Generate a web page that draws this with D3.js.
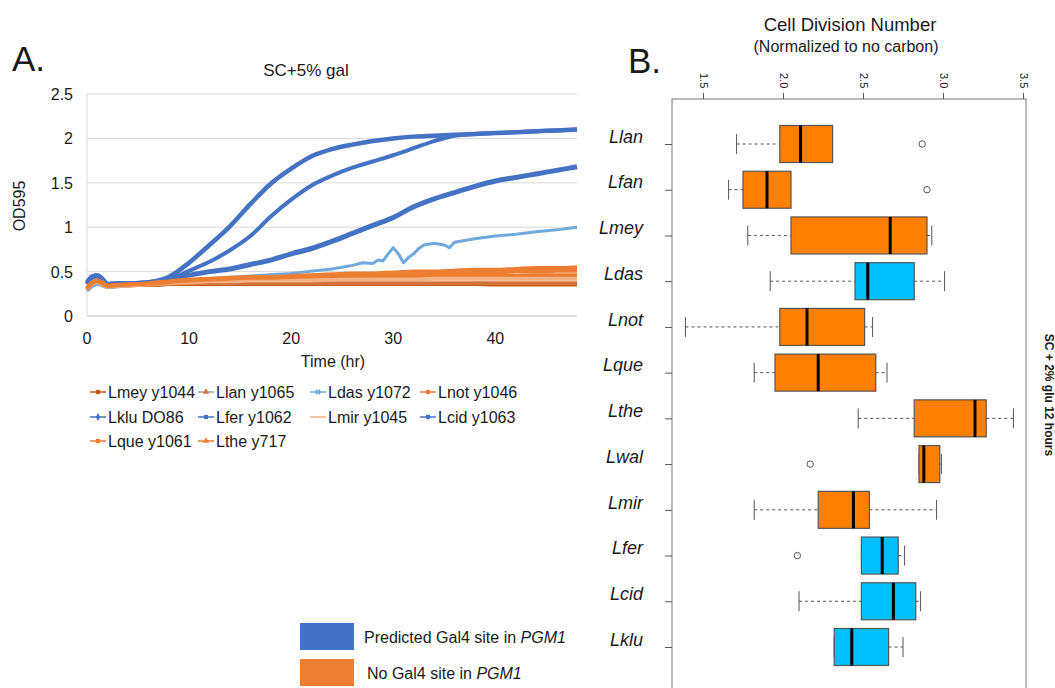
<!DOCTYPE html>
<html>
<head>
<meta charset="utf-8">
<script src="https://cdn.jsdelivr.net/npm/d3@7"></script>
<style>
  body { margin: 0; background: #fff; }
  svg text { font-family: Arial, "Liberation Sans", sans-serif; fill: #1a1a1a; }
</style>
</head>
<body>
<svg id="chart" width="1055" height="688"></svg>
<script>
// ---- panel A: OD595 growth curves in SC+5% gal ----
const hours = [0, 0.5, 1, 1.5, 2, 3, 5, 7, 8, 10, 12, 14, 16, 18, 20, 22, 24, 26, 28, 30, 32, 34, 36, 38, 40, 42, 44, 46, 48];
const odLmey = [0.29, 0.35, 0.37, 0.35, 0.33, 0.34, 0.35, 0.35, 0.36, 0.36, 0.36, 0.36, 0.36, 0.36, 0.36, 0.36, 0.36, 0.36, 0.36, 0.36, 0.36, 0.36, 0.36, 0.36, 0.355, 0.355, 0.355, 0.355, 0.355];
const odLlan = [0.30, 0.36, 0.38, 0.36, 0.33, 0.34, 0.35, 0.36, 0.36, 0.37, 0.37, 0.37, 0.37, 0.37, 0.37, 0.37, 0.37, 0.37, 0.37, 0.37, 0.37, 0.37, 0.37, 0.37, 0.37, 0.37, 0.37, 0.37, 0.37];
const odLnot = [0.30, 0.37, 0.39, 0.37, 0.34, 0.35, 0.36, 0.37, 0.38, 0.40, 0.40, 0.41, 0.41, 0.42, 0.42, 0.42, 0.43, 0.43, 0.44, 0.44, 0.44, 0.45, 0.45, 0.45, 0.45, 0.45, 0.46, 0.46, 0.46];
const odLklu = [0.36, 0.44, 0.45, 0.41, 0.35, 0.36, 0.37, 0.39, 0.41, 0.46, 0.50, 0.53, 0.58, 0.63, 0.70, 0.76, 0.84, 0.93, 1.02, 1.11, 1.23, 1.32, 1.39, 1.46, 1.52, 1.56, 1.60, 1.64, 1.68];
const odLfer = [0.36, 0.44, 0.45, 0.42, 0.35, 0.36, 0.37, 0.39, 0.41, 0.51, 0.61, 0.74, 0.90, 1.12, 1.31, 1.47, 1.58, 1.67, 1.74, 1.81, 1.89, 1.97, 2.03, 2.05, 2.06, 2.07, 2.08, 2.09, 2.10];
const odLmir = [0.30, 0.36, 0.38, 0.36, 0.33, 0.34, 0.35, 0.36, 0.37, 0.38, 0.39, 0.39, 0.40, 0.40, 0.40, 0.40, 0.41, 0.41, 0.41, 0.41, 0.41, 0.42, 0.42, 0.42, 0.42, 0.42, 0.42, 0.42, 0.42];
const odLcid = [0.38, 0.44, 0.46, 0.42, 0.36, 0.37, 0.37, 0.40, 0.44, 0.60, 0.80, 1.01, 1.26, 1.49, 1.66, 1.80, 1.88, 1.93, 1.97, 2.00, 2.02, 2.03, 2.04, 2.05, 2.06, 2.07, 2.08, 2.09, 2.10];
const odLque = [0.31, 0.37, 0.39, 0.37, 0.34, 0.35, 0.36, 0.37, 0.38, 0.40, 0.41, 0.42, 0.43, 0.43, 0.44, 0.45, 0.45, 0.46, 0.46, 0.47, 0.47, 0.48, 0.48, 0.49, 0.49, 0.50, 0.50, 0.51, 0.51];
const odLthe = [0.31, 0.38, 0.40, 0.38, 0.34, 0.35, 0.36, 0.38, 0.39, 0.41, 0.42, 0.43, 0.44, 0.44, 0.45, 0.46, 0.47, 0.48, 0.48, 0.49, 0.50, 0.50, 0.51, 0.52, 0.52, 0.53, 0.54, 0.54, 0.55];
// Ldas is noisy, so it gets its own time points
const dasHours = [0, 0.5, 1, 1.5, 2, 3, 5, 8, 12, 16, 20, 24, 26, 27, 28, 28.5, 29, 29.5, 30, 30.5, 31, 31.5, 32, 32.5, 33, 34, 35, 35.5, 36, 38, 40, 42, 44, 46, 48];
const odLdas = [0.28, 0.33, 0.36, 0.35, 0.32, 0.33, 0.35, 0.38, 0.42, 0.45, 0.48, 0.53, 0.57, 0.60, 0.59, 0.63, 0.62, 0.70, 0.77, 0.70, 0.60, 0.66, 0.70, 0.76, 0.80, 0.82, 0.80, 0.77, 0.83, 0.87, 0.90, 0.92, 0.95, 0.97, 1.00];

const timeTicks = [0, 10, 20, 30, 40];
const odTicks = [0, 0.5, 1, 1.5, 2, 2.5];

// ---- panel B: cell division number box plots ----
const boxNames = ["Llan", "Lfan", "Lmey", "Ldas", "Lnot", "Lque", "Lthe", "Lwal", "Lmir", "Lfer", "Lcid", "Lklu"];
const boxLow  = [1.71, 1.66, 1.78, 1.92, 1.39, 1.82, 2.47, 2.85, 1.82, 2.49, 2.10, 2.32];
const boxQ1   = [1.98, 1.75, 2.05, 2.45, 1.98, 1.95, 2.82, 2.85, 2.22, 2.49, 2.49, 2.32];
const boxMed  = [2.11, 1.90, 2.67, 2.53, 2.15, 2.22, 3.20, 2.88, 2.44, 2.62, 2.69, 2.43];
const boxQ3   = [2.31, 2.05, 2.90, 2.82, 2.51, 2.58, 3.27, 2.98, 2.54, 2.72, 2.83, 2.66];
const boxHigh = [2.31, 2.05, 2.93, 3.01, 2.56, 2.65, 3.44, 2.99, 2.96, 2.76, 2.86, 2.75];
const gal4Site = ["Ldas", "Lfer", "Lcid", "Lklu"];
const outlierNames = ["Llan", "Lfan", "Lwal", "Lfer"];
const outlierValues = [2.87, 2.90, 2.17, 2.09];
const divisionTicks = [1.5, 2.0, 2.5, 3.0, 3.5];

const svg = d3.select("#chart");

// ================= A =================
const series = [
  { name: "Lmey y1044", x: hours, y: odLmey, color: "#c55a11", sym: d3.symbolSquare },
  { name: "Llan y1065", x: hours, y: odLlan, color: "#d3733a", sym: d3.symbolTriangle, legendLine: "#a5a5a5" },
  { name: "Ldas y1072", x: dasHours, y: odLdas, color: "#6fa8dc", sym: d3.symbolCross, rot: 45, width: 3, linear: true },
  { name: "Lnot y1046", x: hours, y: odLnot, color: "#ed7d31", sym: d3.symbolSquare },
  { name: "Lklu DO86", x: hours, y: odLklu, color: "#4472c4", sym: d3.symbolDiamond, width: 5 },
  { name: "Lfer y1062", x: hours, y: odLfer, color: "#4472c4", sym: d3.symbolSquare, width: 4 },
  { name: "Lmir y1045", x: hours, y: odLmir, color: "#f4b183", sym: null },
  { name: "Lcid y1063", x: hours, y: odLcid, color: "#4472c4", sym: d3.symbolCircle, width: 4.5 },
  { name: "Lque y1061", x: hours, y: odLque, color: "#ed7d31", sym: d3.symbolSquare },
  { name: "Lthe y717", x: hours, y: odLthe, color: "#ed7d31", sym: d3.symbolTriangle }
];

const xA = d3.scaleLinear().domain([0, 48]).range([87, 577]);
const yA = d3.scaleLinear().domain([0, 2.5]).range([316, 94]);

const gA = svg.append("g");

gA.append("text").attr("x", 12).attr("y", 71).style("font-size", "35px").text("A.");
gA.append("text").attr("x", 306).attr("y", 76).attr("text-anchor", "middle")
  .style("font-size", "17px").text("SC+5% gal");

// gridlines
gA.selectAll(".grid").data(odTicks.filter(d => d > 0)).join("line")
  .attr("x1", xA(0)).attr("x2", xA(48))
  .attr("y1", d => yA(d)).attr("y2", d => yA(d))
  .attr("stroke", "#d9d9d9");
gA.append("line").attr("x1", xA(0)).attr("x2", xA(0)).attr("y1", yA(2.5)).attr("y2", yA(0))
  .attr("stroke", "#d9d9d9");
gA.append("line").attr("x1", xA(0)).attr("x2", xA(48)).attr("y1", yA(0)).attr("y2", yA(0))
  .attr("stroke", "#bfbfbf");

// y ticks
gA.selectAll(".ytick").data(odTicks).join("text")
  .attr("x", 73).attr("y", d => yA(d) + 6).attr("text-anchor", "end")
  .style("font-size", "16px").text(d => d);
// x ticks
gA.selectAll(".xtick").data(timeTicks).join("text")
  .attr("x", d => xA(d)).attr("y", 344).attr("text-anchor", "middle")
  .style("font-size", "16px").text(d => d);
gA.append("text").attr("x", 333).attr("y", 367).attr("text-anchor", "middle")
  .style("font-size", "16px").text("Time (hr)");
gA.append("text").attr("transform", "translate(25,206) rotate(-90)").attr("text-anchor", "middle")
  .style("font-size", "16px").text("OD595");

gA.append("clipPath").attr("id", "clipA").append("rect")
  .attr("x", xA(0) - 2).attr("y", yA(2.5)).attr("width", xA(48) - xA(0) + 4).attr("height", yA(0) - yA(2.5));

const smooth = d3.line().curve(d3.curveMonotoneX);
const straight = d3.line();
gA.append("g").attr("clip-path", "url(#clipA)")
  .selectAll("path").data(series).join("path")
  .attr("d", s => (s.linear ? straight : smooth)(s.x.map((t, i) => [xA(t), yA(s.y[i])])))
  .attr("fill", "none")
  .attr("stroke", s => s.color)
  .attr("stroke-width", s => s.width || 4)
  .attr("stroke-linejoin", "round");

// series legend
const legX = [90, 198, 310, 420];
const legY = [392, 417, 441];
const leg = gA.selectAll(".leg").data(series).join("g")
  .attr("transform", (s, i) => `translate(${legX[i % 4]},${legY[Math.floor(i / 4)]})`);
leg.append("line").attr("x1", 0).attr("x2", 16).attr("y1", 0).attr("y2", 0)
  .attr("stroke", s => s.legendLine || s.color).attr("stroke-width", 1.5);
leg.filter(s => s.sym).append("path")
  .attr("transform", s => `translate(8,0) rotate(${s.rot || 0})`)
  .attr("d", s => d3.symbol(s.sym, 18)())
  .attr("fill", s => s.color);
leg.append("text").attr("x", 18).attr("y", 6).style("font-size", "16px").text(s => s.name);

// group legend
const groups = [
  { label: "Predicted Gal4 site in ", gene: "PGM1", color: "#4472c4" },
  { label: "No Gal4 site in ", gene: "PGM1", color: "#ed7d31" }
];
const gLeg = svg.selectAll(".gleg").data(groups).join("g")
  .attr("transform", (d, i) => `translate(300,${623 + i * 36})`);
gLeg.append("rect").attr("width", 54).attr("height", 27).attr("fill", d => d.color);
const gText = gLeg.append("text").attr("x", (d, i) => 64 + i * 3).attr("y", 20).style("font-size", "16px");
gText.append("tspan").text(d => d.label);
gText.append("tspan").style("font-style", "italic").text(d => d.gene);

// ================= B =================
const xB = d3.scaleLinear().domain([1.5, 3.5]).range([703, 1023]);
const yB = d3.scalePoint().domain(boxNames).range([144, 647]);
const frame = { left: 672, right: 1026, top: 99, bottom: 720 };
const halfBox = 18.5, halfCap = 10;

const gB = svg.append("g");
gB.append("text").attr("x", 628).attr("y", 73).style("font-size", "35px").text("B.");
gB.append("text").attr("x", 850).attr("y", 31).attr("text-anchor", "middle")
  .style("font-size", "18.5px").text("Cell Division Number");
gB.append("text").attr("x", 846).attr("y", 52).attr("text-anchor", "middle")
  .style("font-size", "16px").text("(Normalized to no carbon)");

gB.append("rect")
  .attr("x", frame.left).attr("y", frame.top)
  .attr("width", frame.right - frame.left).attr("height", frame.bottom - frame.top)
  .attr("fill", "none").attr("stroke", "#777");

const topAxis = gB.append("g").attr("transform", `translate(0,${frame.top})`)
  .call(d3.axisTop(xB).tickValues(divisionTicks).tickFormat(d3.format(".1f")).tickSize(6).tickSizeOuter(0));
topAxis.select(".domain").remove();
topAxis.selectAll("line").attr("stroke", "#555");
topAxis.selectAll("text")
  .attr("x", 0).attr("y", 0).attr("dy", null)
  .attr("text-anchor", "start")
  .attr("transform", "translate(-4,-26) rotate(90)")
  .style("font-size", "11px").attr("fill", "#333");

const leftAxis = gB.append("g").attr("transform", `translate(${frame.left},0)`)
  .call(d3.axisLeft(yB).tickSize(7).tickPadding(22));
leftAxis.select(".domain").remove();
leftAxis.selectAll("line").attr("stroke", "#555");
leftAxis.selectAll("text")
  .attr("dy", "-0.1em")
  .style("font-size", "18px").style("font-style", "italic").attr("fill", "#111");

const rows = boxNames.map((n, i) => ({
  name: n, low: boxLow[i], q1: boxQ1[i], med: boxMed[i], q3: boxQ3[i], high: boxHigh[i]
}));
const bx = gB.selectAll(".box").data(rows).join("g")
  .attr("transform", d => `translate(0,${yB(d.name)})`);

// whiskers
bx.filter(d => d.low < d.q1).append("line")
  .attr("x1", d => xB(d.low)).attr("x2", d => xB(d.q1))
  .attr("stroke", "#555").attr("stroke-dasharray", "3,3");
bx.filter(d => d.high > d.q3).append("line")
  .attr("x1", d => xB(d.q3)).attr("x2", d => xB(d.high))
  .attr("stroke", "#555").attr("stroke-dasharray", "3,3");
bx.append("line").attr("x1", d => xB(d.low)).attr("x2", d => xB(d.low))
  .attr("y1", -halfCap).attr("y2", halfCap).attr("stroke", "#555");
bx.filter(d => d.high > d.q3).append("line").attr("x1", d => xB(d.high)).attr("x2", d => xB(d.high))
  .attr("y1", -halfCap).attr("y2", halfCap).attr("stroke", "#555");

bx.append("rect")
  .attr("x", d => xB(d.q1)).attr("y", -halfBox)
  .attr("width", d => xB(d.q3) - xB(d.q1)).attr("height", halfBox * 2)
  .attr("fill", d => gal4Site.includes(d.name) ? "#00bfff" : "#ff8000")
  .attr("stroke", "#555").attr("stroke-width", 1.2);
bx.append("line").attr("x1", d => xB(d.med)).attr("x2", d => xB(d.med))
  .attr("y1", -halfBox).attr("y2", halfBox).attr("stroke", "#000").attr("stroke-width", 3);

gB.selectAll(".outlier").data(outlierNames).join("circle")
  .attr("cx", (d, i) => xB(outlierValues[i])).attr("cy", d => yB(d))
  .attr("r", 3.2).attr("fill", "none").attr("stroke", "#555");

gB.append("text").attr("transform", "translate(1045,395) rotate(90)").attr("text-anchor", "middle")
  .style("font-size", "12px").style("font-weight", "bold").text("SC + 2% glu 12 hours");
</script>
</body>
</html>
